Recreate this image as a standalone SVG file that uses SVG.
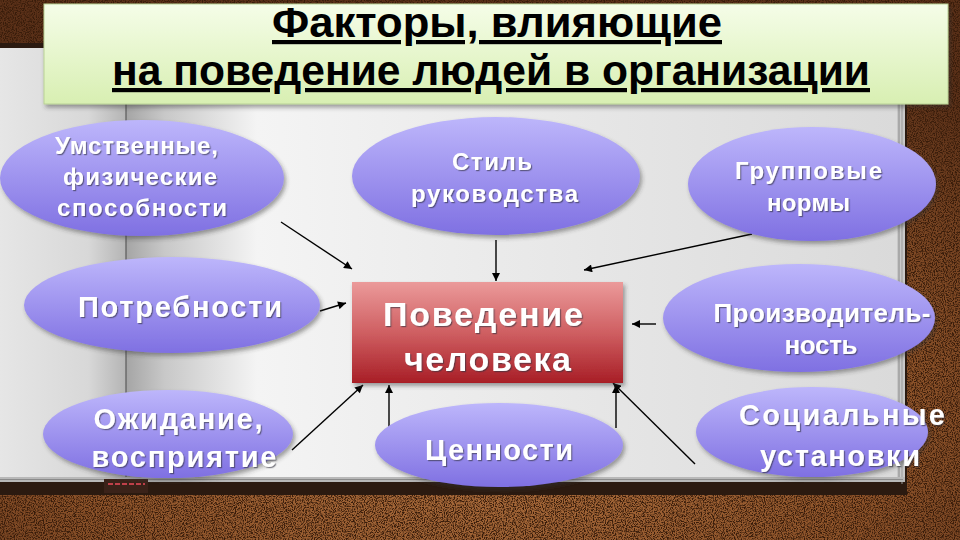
<svg xmlns="http://www.w3.org/2000/svg" width="960" height="540" viewBox="0 0 960 540">
<style>
.lbl{font-family:"Liberation Sans",Arial,sans-serif;font-weight:bold;fill:#ffffff;text-anchor:middle}
.ttl{font-family:"Liberation Sans",Arial,sans-serif;font-weight:bold;fill:#000000;text-decoration:underline}
.node{fill:url(#ell);filter:url(#shadow)}
.conn{stroke:#000;stroke-width:1.4;fill:none;marker-end:url(#ah)}
</style>
<defs>
<radialGradient id="wood" cx="0.5" cy="0.75" r="0.75">
<stop offset="0" stop-color="#b47542"/>
<stop offset="0.6" stop-color="#8c5229"/>
<stop offset="1" stop-color="#5a3018"/>
</radialGradient>
<filter id="grain" x="0" y="0" width="1" height="1" color-interpolation-filters="sRGB">
<feTurbulence type="fractalNoise" baseFrequency="0.9 0.8" numOctaves="3" seed="4" result="n"/>
<feColorMatrix in="n" type="matrix" values="0 0 0 0 0.22  0 0 0 0 0.11  0 0 0 0 0.04  4 0 0 0 -1.7"/>
</filter>
<linearGradient id="leftPage" x1="0" y1="0" x2="1" y2="0">
<stop offset="0" stop-color="#e6e6e6"/>
<stop offset="0.7" stop-color="#d8d8d8"/>
<stop offset="1" stop-color="#b4b4b4"/>
</linearGradient>
<linearGradient id="rightPage" x1="0" y1="0" x2="1" y2="0">
<stop offset="0" stop-color="#a5a5a5"/>
<stop offset="0.05" stop-color="#c8c8c8"/>
<stop offset="0.17" stop-color="#f4f4f4"/>
<stop offset="0.55" stop-color="#e8e8e8"/>
<stop offset="1" stop-color="#dadada"/>
</linearGradient>
<linearGradient id="titleG" x1="0" y1="0" x2="0" y2="1">
<stop offset="0" stop-color="#f5fde8"/>
<stop offset="1" stop-color="#d8efb2"/>
</linearGradient>
<linearGradient id="ell" x1="0" y1="0" x2="0" y2="1">
<stop offset="0" stop-color="#bdb6fb"/>
<stop offset="1" stop-color="#7f70e2"/>
</linearGradient>
<linearGradient id="redG" x1="0" y1="0" x2="0" y2="1">
<stop offset="0" stop-color="#eb9a9a"/>
<stop offset="0.5" stop-color="#cf5f62"/>
<stop offset="1" stop-color="#a81e26"/>
</linearGradient>
<filter id="shadow" x="-10%" y="-10%" width="125%" height="130%">
<feDropShadow dx="2" dy="3" stdDeviation="2" flood-color="#333" flood-opacity="0.45"/>
</filter>
<filter id="tshadow" x="-5%" y="-20%" width="115%" height="150%">
<feDropShadow dx="1.2" dy="1.2" stdDeviation="0.6" flood-color="#303040" flood-opacity="0.6"/>
</filter>
<marker id="ah" viewBox="0 0 10 10" refX="10" refY="5" markerWidth="9" markerHeight="8" markerUnits="userSpaceOnUse" orient="auto">
<path d="M0,0 L10,5 L0,10 z" fill="#000"/>
</marker>
</defs>

<g id="background">
<rect width="960" height="540" fill="url(#wood)"/>
<rect width="960" height="540" filter="url(#grain)"/>
<rect x="0" y="43" width="907" height="452" fill="#2b1a10"/>
<rect x="0" y="48" width="126" height="430" fill="url(#leftPage)"/>
<rect x="126" y="48" width="771" height="430" fill="url(#rightPage)"/>
<line x1="126" y1="48" x2="126" y2="478" stroke="#5a5a5a" stroke-width="1.2"/>
<rect x="897" y="48" width="8" height="434" fill="#c8c8c8"/>
<line x1="899" y1="48" x2="899" y2="482" stroke="#8a8a8a" stroke-width="1"/>
<line x1="902" y1="48" x2="902" y2="484" stroke="#9a9a9a" stroke-width="1"/>
<rect x="0" y="477" width="905" height="5" fill="#b8b8b8"/>
<line x1="0" y1="479.5" x2="903" y2="479.5" stroke="#8a8a8a" stroke-width="1"/>
<rect x="104" y="479" width="44" height="14" fill="#3a2219"/>
<line x1="108" y1="484" x2="145" y2="484" stroke="#c0404a" stroke-width="2" stroke-dasharray="5 2"/>
</g>

<g id="title">
<rect x="44" y="4" width="904" height="100" fill="url(#titleG)" stroke="#b9d196" stroke-width="1" filter="url(#shadow)"/>
<text class="ttl" x="272" y="37" font-size="42" textLength="450" lengthAdjust="spacingAndGlyphs">Факторы, влияющие </text>
<text class="ttl" x="112" y="85" font-size="42" textLength="758" lengthAdjust="spacingAndGlyphs">на поведение людей в организации</text>
</g>

<g id="connectors">
<line class="conn" x1="281" y1="222" x2="352" y2="269"/>
<line class="conn" x1="496" y1="240" x2="496" y2="281"/>
<line class="conn" x1="752" y1="234" x2="584" y2="270"/>
<line class="conn" x1="320" y1="311" x2="346" y2="303"/>
<line class="conn" x1="656" y1="324" x2="632" y2="324"/>
<line class="conn" x1="292" y1="450" x2="363" y2="385"/>
<line class="conn" x1="389" y1="432" x2="389" y2="385"/>
<line class="conn" x1="695" y1="464" x2="613" y2="383"/>
<line class="conn" x1="616" y1="428" x2="616" y2="385"/>
</g>

<g id="node-center">
<rect x="352" y="282" width="271" height="101" fill="url(#redG)" filter="url(#shadow)"/>
<text class="lbl" x="483" y="326" font-size="34" textLength="200" lengthAdjust="spacing" filter="url(#tshadow)">Поведение</text>
<text class="lbl" x="487.5" y="371" font-size="34" textLength="167" lengthAdjust="spacing" filter="url(#tshadow)">человека</text>
</g>

<g id="node-abilities">
<ellipse class="node" cx="142" cy="178" rx="142" ry="58"/>
<text class="lbl" x="136.5" y="154" font-size="24" textLength="163" lengthAdjust="spacing" filter="url(#tshadow)">Умственные,</text>
<text class="lbl" x="140" y="185" font-size="24" textLength="154" lengthAdjust="spacing" filter="url(#tshadow)">физические</text>
<text class="lbl" x="142" y="216" font-size="24" textLength="170" lengthAdjust="spacing" filter="url(#tshadow)">способности</text>
</g>

<g id="node-leadership">
<ellipse class="node" cx="496" cy="176" rx="144" ry="59"/>
<text class="lbl" x="492" y="170" font-size="24" textLength="80" lengthAdjust="spacing" filter="url(#tshadow)">Стиль</text>
<text class="lbl" x="494.5" y="202" font-size="24" textLength="167" lengthAdjust="spacing" filter="url(#tshadow)">руководства</text>
</g>

<g id="node-norms">
<ellipse class="node" cx="812" cy="184" rx="124" ry="57"/>
<text class="lbl" x="808.5" y="179" font-size="24" textLength="147" lengthAdjust="spacing" filter="url(#tshadow)">Групповые</text>
<text class="lbl" x="808.5" y="211" font-size="24" textLength="83" lengthAdjust="spacing" filter="url(#tshadow)">нормы</text>
</g>

<g id="node-needs">
<ellipse class="node" cx="172" cy="305" rx="148" ry="48"/>
<text class="lbl" x="180" y="317" font-size="29" textLength="204" lengthAdjust="spacing" filter="url(#tshadow)">Потребности</text>
</g>

<g id="node-productivity">
<ellipse class="node" cx="799" cy="318" rx="136" ry="54"/>
<text class="lbl" x="822" y="322" font-size="26" textLength="217" lengthAdjust="spacing" filter="url(#tshadow)">Производитель-</text>
<text class="lbl" x="821" y="354" font-size="26" textLength="73" lengthAdjust="spacing" filter="url(#tshadow)">ность</text>
</g>

<g id="node-expectation">
<ellipse class="node" cx="168" cy="434" rx="125" ry="44"/>
<text class="lbl" x="178" y="429" font-size="29" textLength="169" lengthAdjust="spacing" filter="url(#tshadow)">Ожидание,</text>
<text class="lbl" x="184" y="467" font-size="29" textLength="185" lengthAdjust="spacing" filter="url(#tshadow)">восприятие</text>
</g>

<g id="node-values">
<ellipse class="node" cx="499" cy="445" rx="124" ry="42"/>
<text class="lbl" x="499" y="460" font-size="29" textLength="148" lengthAdjust="spacing" filter="url(#tshadow)">Ценности</text>
</g>

<g id="node-attitudes">
<ellipse class="node" cx="812" cy="432" rx="116" ry="45"/>
<text class="lbl" x="842" y="425" font-size="29" textLength="206" lengthAdjust="spacing" filter="url(#tshadow)">Социальные</text>
<text class="lbl" x="840" y="466" font-size="29" textLength="160" lengthAdjust="spacing" filter="url(#tshadow)">установки</text>
</g>
</svg>
